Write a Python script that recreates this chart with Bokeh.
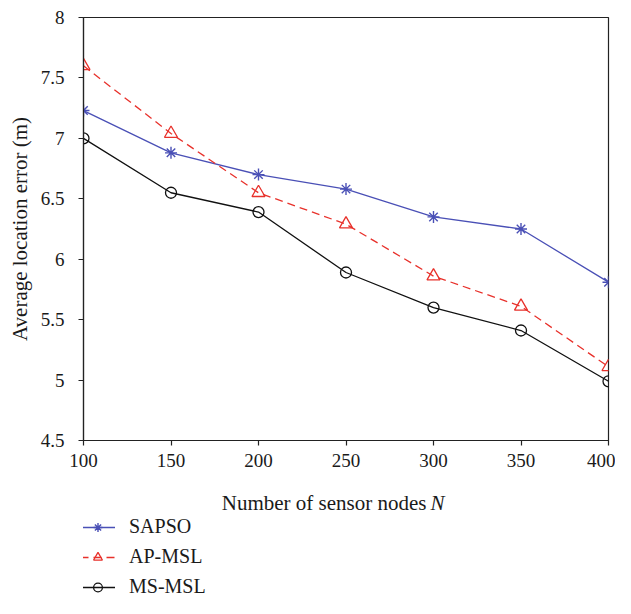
from bokeh.plotting import figure
from bokeh.layouts import column
from bokeh.models import Legend, LegendItem, FixedTicker, Range1d, Label
from bokeh.embed import file_html
from bokeh.resources import INLINE

# ---- data ----
nodes = [100, 150, 200, 250, 300, 350, 400]
sapso = [7.23, 6.88, 6.70, 6.58, 6.35, 6.25, 5.81]
ap_msl = [7.60, 7.04, 6.55, 6.29, 5.86, 5.61, 5.11]
ms_msl = [7.00, 6.55, 6.39, 5.89, 5.60, 5.41, 4.99]

x_ticks = [100, 150, 200, 250, 300, 350, 400]
y_ticks = [4.5, 5, 5.5, 6, 6.5, 7, 7.5, 8]
y_tick_labels = ["4.5", "5", "5.5", "6", "6.5", "7", "7.5", "8"]

series_names = ["SAPSO", "AP-MSL", "MS-MSL"]
y_axis_title = "Average location error (m)"
x_axis_title = "Number of sensor nodes"
x_axis_symbol = "N"

FONT = "Liberation Serif"
BLUE = "#4a50b6"
RED = "#e8312b"
BLACK = "#111111"
TXT = "#1a1a1a"

W = 615
H_MAIN = 478
H_LEG = 120


def add_series(fig):
    r1 = fig.line(nodes, sapso, line_color=BLUE, line_width=1.3)
    m1 = fig.scatter(nodes, sapso, marker="asterisk", size=12, line_color=BLUE, line_width=1.4)
    r2 = fig.line(nodes, ap_msl, line_color=RED, line_width=1.3, line_dash="8 5")
    m2 = fig.scatter(nodes, ap_msl, marker="triangle", size=13, line_color=RED,
                     fill_color=None, line_width=1.3)
    r3 = fig.line(nodes, ms_msl, line_color=BLACK, line_width=1.3)
    m3 = fig.scatter(nodes, ms_msl, marker="circle", size=11, line_color=BLACK,
                     fill_color=None, line_width=1.3)
    return [(r1, m1), (r2, m2), (r3, m3)]


# ---------------- main chart ----------------
p = figure(width=W, height=H_MAIN, output_backend="svg", toolbar_location=None,
           x_range=Range1d(100, 400), y_range=Range1d(4.5, 8),
           min_border_left=83, min_border_right=7, min_border_top=17,
           min_border_bottom=38)

p.xgrid.grid_line_color = None
p.ygrid.grid_line_color = None
p.outline_line_color = "#222222"
p.outline_line_width = 1.2
p.background_fill_color = "white"
p.border_fill_color = "white"

for ax in (p.xaxis[0], p.yaxis[0]):
    ax.axis_line_color = "#222222"
    ax.axis_line_width = 1.2
    ax.major_tick_line_color = "#222222"
    ax.major_tick_line_width = 1.2
    ax.major_tick_in = 0
    ax.major_tick_out = 5
    ax.minor_tick_line_color = None
    ax.major_label_text_font = FONT
    ax.major_label_text_font_size = "19px"
    ax.major_label_text_color = TXT
    ax.axis_label_text_font = FONT
    ax.axis_label_text_font_size = "21px"
    ax.axis_label_text_font_style = "normal"
    ax.axis_label_text_color = TXT

p.xaxis.ticker = FixedTicker(ticks=x_ticks)
p.yaxis.ticker = FixedTicker(ticks=y_ticks)
p.yaxis.major_label_overrides = {v: s for v, s in zip(y_ticks, y_tick_labels)}
p.xaxis.major_label_standoff = 8
p.yaxis.major_label_standoff = 14
p.yaxis.axis_label = y_axis_title
p.yaxis.axis_label_standoff = 6

add_series(p)

# ---------------- x-axis title + legend strip ----------------
q = figure(width=W, height=H_LEG, output_backend="svg", toolbar_location=None,
           x_range=Range1d(0, 1), y_range=Range1d(0, 1),
           x_axis_type=None, y_axis_type=None,
           min_border_left=0, min_border_right=0, min_border_top=0, min_border_bottom=0)
q.xgrid.grid_line_color = None
q.ygrid.grid_line_color = None
q.outline_line_color = None
q.background_fill_color = "white"
q.border_fill_color = "white"

pairs = add_series(q)  # data lie outside this strip's ranges; used only for legend keys

lab1 = Label(x=343, y=96, x_units="screen", y_units="screen", text=x_axis_title,
             text_font=FONT, text_font_size="21px", text_color=TXT,
             text_align="right", text_baseline="alphabetic")
lab2 = Label(x=347, y=96, x_units="screen", y_units="screen", text=x_axis_symbol,
             text_font=FONT, text_font_size="21px", text_font_style="italic",
             text_color=TXT, text_align="left", text_baseline="alphabetic")
q.add_layout(lab1)
q.add_layout(lab2)

legend = Legend(items=[LegendItem(label=n, renderers=list(rr)) for n, rr in zip(series_names, pairs)],
                location=(-3, 0), orientation="vertical",
                padding=0, margin=0, spacing=7,
                glyph_width=35, glyph_height=22, label_height=22,
                label_standoff=14,
                label_text_font=FONT, label_text_font_size="20px",
                label_text_color=TXT,
                border_line_color=None, background_fill_alpha=0)
q.add_layout(legend, "center")

layout = column(p, q, spacing=0)
open("out.html", "w").write(file_html(layout, INLINE))
